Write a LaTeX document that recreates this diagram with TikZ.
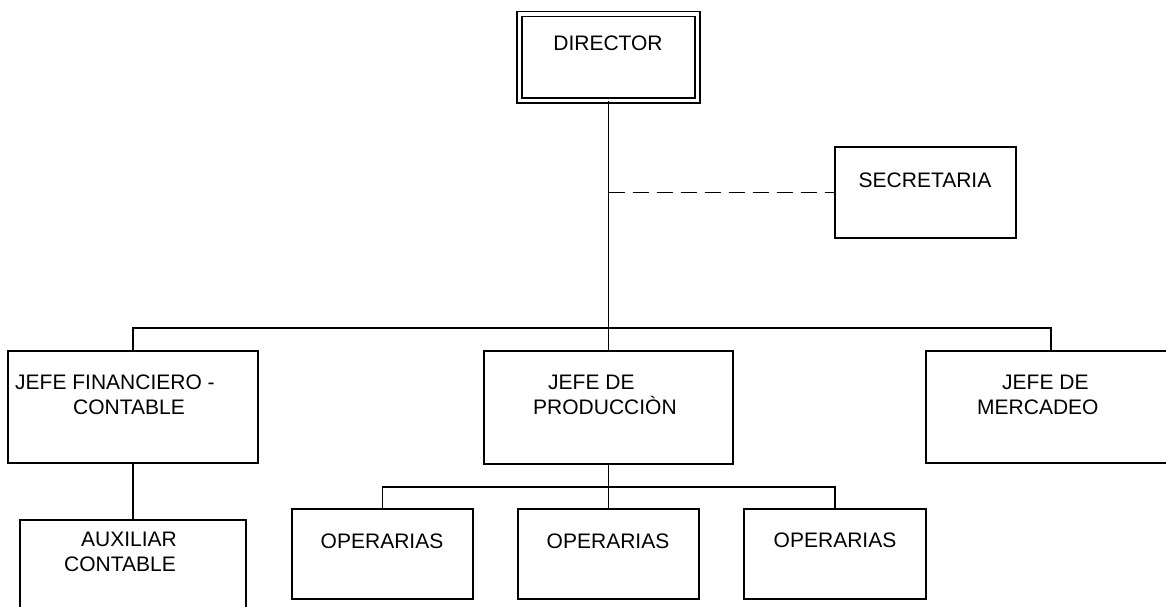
\documentclass[tikz,border=0pt]{standalone}
\usepackage{fontspec}
\setmainfont{Liberation Sans}
\begin{document}
\begin{tikzpicture}[x=1pt,y=-1pt,
  box/.style={draw,line width=1.9pt,rectangle,inner sep=0pt,anchor=center},
  lbl/.style={inner sep=0pt,font=\fontsize{21}{25}\selectfont},
  conn/.style={line width=1.9pt},
  dashconn/.style={line width=1.9pt,dash pattern=on 16pt off 8pt}]
\useasboundingbox (0,0) rectangle (1166,607);
\clip (0,0) rectangle (1166,607);
% boxes
\node[box,double,double distance=3.2pt,line width=1.6pt,minimum width=178pt,minimum height=86.5pt] (dir) at (608.5,57.25) {};
\node[box,minimum width=181pt,minimum height=91pt] (sec) at (925.5,192.5) {};
\node[box,minimum width=250pt,minimum height=112pt] (fin) at (133,407) {};
\node[box,minimum width=249pt,minimum height=113pt] (prod) at (608.5,407.5) {};
\node[box,minimum width=250pt,minimum height=112pt] (merc) at (1051,407) {};
\node[box,minimum width=226pt,minimum height=90pt] (aux) at (133,565) {};
\node[box,minimum width=181pt,minimum height=90pt] (op1) at (382.5,554) {};
\node[box,minimum width=181pt,minimum height=90pt] (op2) at (608.5,554) {};
\node[box,minimum width=182pt,minimum height=90pt] (op3) at (835,554) {};
% labels
\node[lbl] (dirt) at (608,43) {DIRECTOR};
\node[lbl] (sect) at (925,180) {SECRETARIA};
\node[lbl,anchor=west,align=left] (fint) at (15,395) {JEFE FINANCIERO -\\\hspace*{58pt}CONTABLE};
\node[lbl,anchor=west,align=left] (prodt) at (533,394.5) {\hspace*{15pt}JEFE DE\\PRODUCCIÒN};
\node[lbl,anchor=west,align=left] (merct) at (977,394.5) {\hspace*{25pt}JEFE DE\\MERCADEO};
\node[lbl,anchor=west,align=left] (auxt) at (64,551.5) {\hspace*{17pt}AUXILIAR\\CONTABLE};
\node[lbl] (op1t) at (382,541) {OPERARIAS};
\node[lbl] (op2t) at (608,541) {OPERARIAS};
\node[lbl] (op3t) at (835,540) {OPERARIAS};
% connectors
\coordinate (bus) at (608.5,328);
\coordinate (sj) at (608.5,192.5);
\coordinate (bus2) at (608.5,487);
\draw[conn] (dir.south) -- (prod.north);
\draw[conn] (fin.north) |- (bus) -| (merc.north);
\draw[dashconn] (sj) -- (sec.west);
\draw[conn] (fin.south) -- (aux.north);
\draw[conn] (prod.south) -- (op2.north);
\draw[conn] (op1.north) |- (bus2) -| (op3.north);
\end{tikzpicture}
\end{document}
